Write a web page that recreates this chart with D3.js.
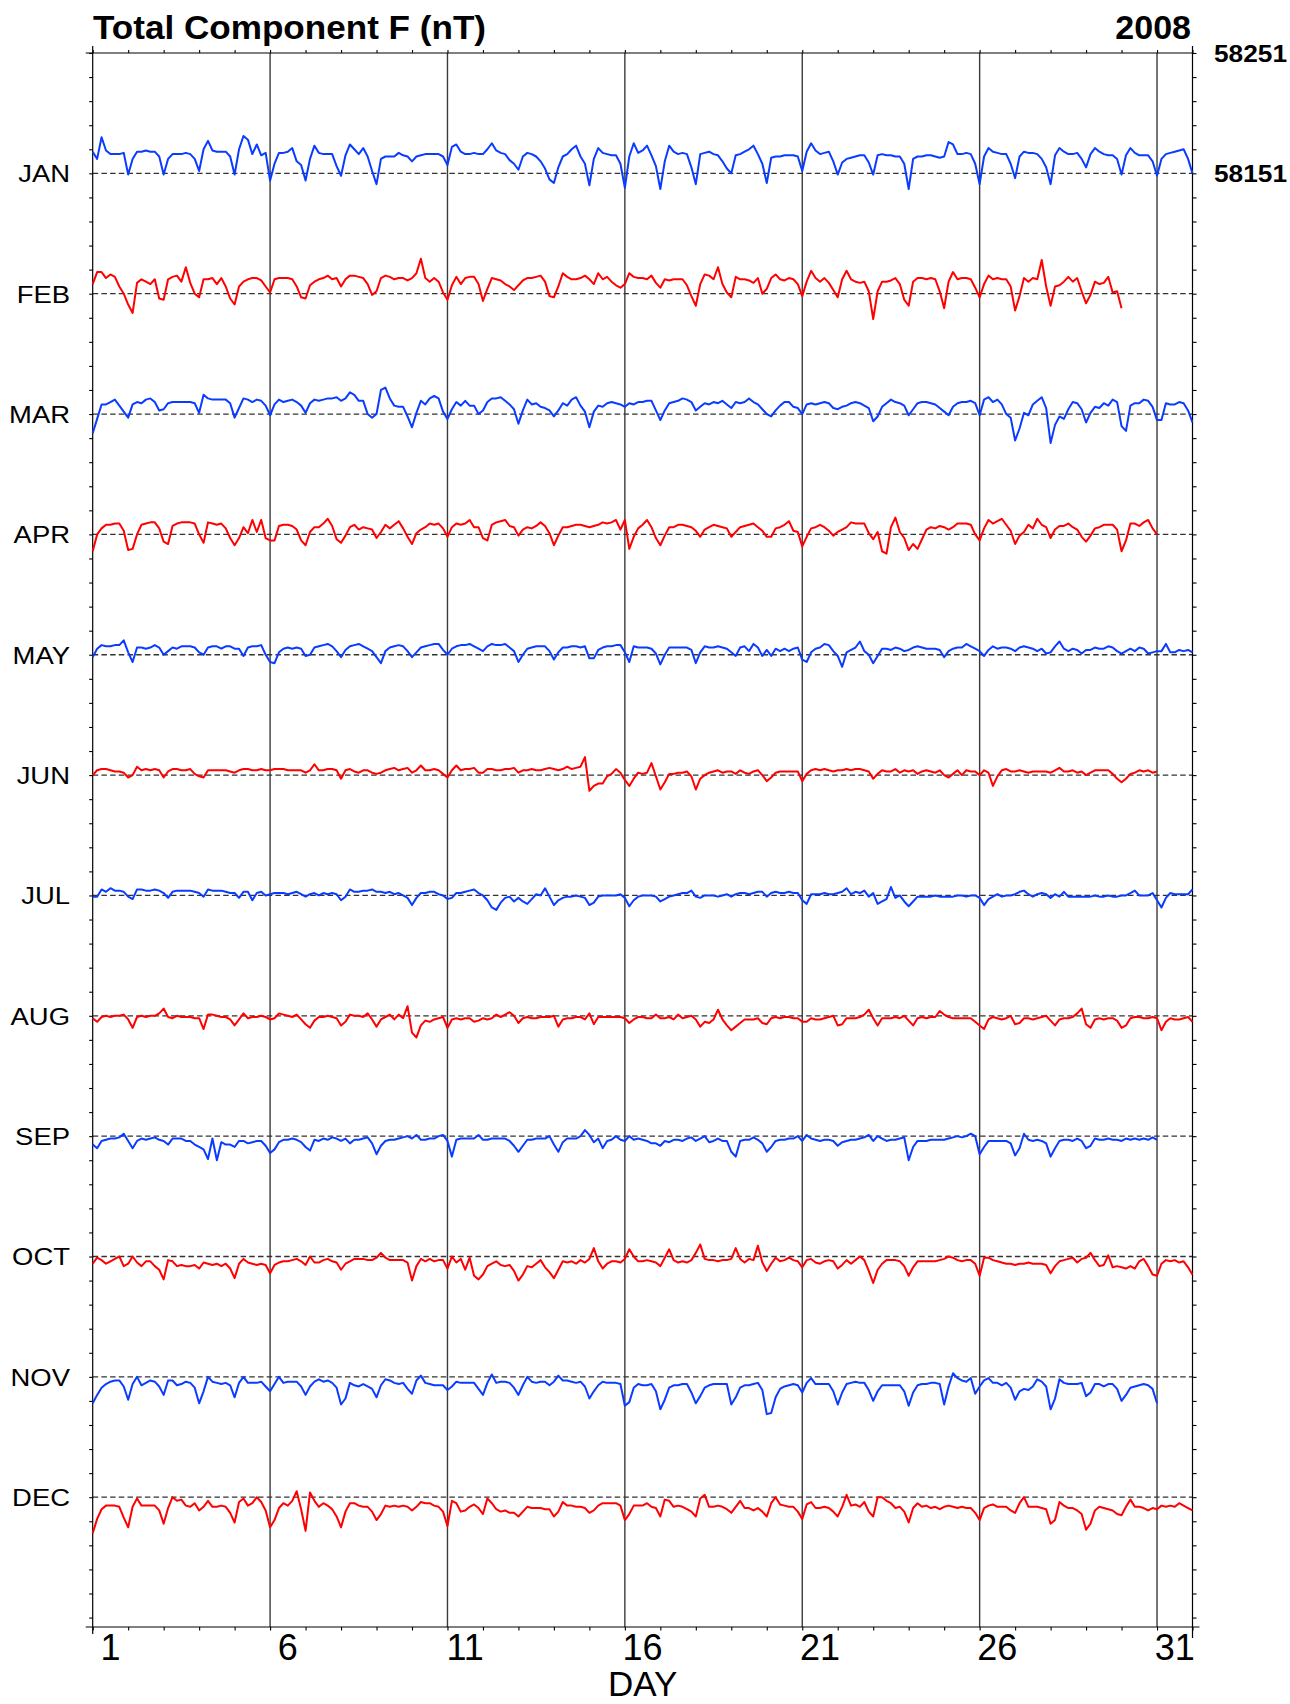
<!DOCTYPE html>
<html>
<head>
<meta charset="utf-8">
<script src="https://cdn.jsdelivr.net/npm/d3@7"></script>
<style>
  body { margin: 0; background: #fff; }
  text { font-family: "Liberation Sans", Arial, Helvetica, sans-serif; fill: #000; }
</style>
</head>
<body>
<svg id="chart" width="1290" height="1704"></svg>
<script>
// ---- Labels and reference values ----
const months = ["JAN", "FEB", "MAR", "APR", "MAY", "JUN", "JUL", "AUG", "SEP", "OCT", "NOV", "DEC"];
const daysInMonth = [31, 29, 31, 30, 31, 30, 31, 31, 30, 31, 30, 31];
const dayTickLabels = [1, 6, 11, 16, 21, 26, 31];
const samplesPerDay = 8;              // 3-hourly values
const janReference = 58151;           // nT, JAN baseline
const monthSpacing = 100;             // nT between monthly baselines
const rightLabels = [58251, 58151];
const titleText = "Total Component F (nT)";
const yearText = "2008";
const xTitle = "DAY";

// ---- 3-hourly deviations from each month's baseline (nT), day 1 00 UT onward ----
const JAN = [
  18,12,30,19,16,16,16,17, -1,12,18,18,19,18,18,14, -1,12,16,16,16,17,16,12, 2,20,27,19,18,18,18,14,
  -1,20,31,28,16,24,15,17, -6,8,17,17,18,21,10,7, -6,12,23,17,16,16,16,6, -2,15,24,20,16,21,14,2,
  -9,12,14,14,14,17,15,14, 10,14,15,16,16,16,16,14, 7,22,24,18,16,16,17,16, 16,20,25,19,17,16,11,8,
  3,14,17,16,14,10,4,-5, -8,5,14,16,20,23,14,8, -10,12,21,17,16,15,15,8, -12,14,25,17,19,23,15,6,
  -13,10,23,18,16,17,16,5, -9,16,17,18,16,15,10,4, 0,15,16,18,20,23,16,8, -8,13,14,14,15,15,15,14,
  2,18,25,19,16,17,18,10, -1,9,12,13,14,15,15,9, -1,15,16,15,15,14,14,8, -13,12,14,14,15,15,14,13,
  14,26,24,16,16,17,16,8, -9,14,21,18,17,16,16,8, -4,14,18,17,17,16,12,5, -9,15,21,18,16,16,17,12,
  5,16,21,18,16,15,15,12, -1,15,21,17,15,15,15,10, -2,12,16,17,18,19,20,12, 0
];
const FEB = [
  8,18,18,13,16,14,6,0, -9,-16,9,12,10,8,12,-4, -5,12,14,15,10,22,9,0, -3,12,12,13,8,13,6,-4,
  -9,6,10,12,13,13,11,6, 1,12,13,13,13,12,6,-3, -4,7,10,12,13,15,12,13, 6,12,15,15,14,13,8,-1,
  2,13,15,14,12,13,13,11, 13,17,29,13,10,13,10,1, -5,7,14,8,13,14,14,8, -6,4,13,12,11,8,6,3,
  7,11,13,13,14,15,10,-2, -3,6,17,14,12,12,13,15, 12,8,17,12,14,10,7,5, 8,17,14,13,13,12,15,9,
  5,12,11,12,12,12,7,-2, -10,8,16,15,12,22,8,1, -3,14,12,12,11,9,13,0, 4,13,16,12,11,13,12,8,
  -2,10,19,13,10,13,9,3, -3,12,19,12,10,9,10,2, -21,2,10,10,11,13,8,-5, -10,10,13,13,12,13,12,2,
  -12,10,18,12,13,13,12,5, -3,8,15,12,13,12,12,6, -14,-2,13,10,13,12,28,6, -10,6,7,10,14,10,13,2,
  -8,-1,10,8,9,14,1,2, -12
];
const MAR = [
  -16,-4,8,8,10,12,7,2, -3,8,10,9,12,13,10,3, 4,9,10,10,10,10,10,9, 1,16,13,12,12,12,12,9,
  -3,5,13,12,10,12,11,7, -1,8,12,10,11,12,10,7, 1,9,12,11,12,13,13,14, 11,13,18,16,11,11,0,-3,
  0,20,22,13,7,6,6,-2, -11,1,11,8,13,15,13,2, -4,4,10,7,11,7,7,0, 3,10,13,13,14,11,8,4,
  -8,3,12,8,9,6,5,3, -2,3,9,7,12,14,7,2, -11,2,7,6,9,10,9,8, 6,9,8,10,10,11,11,3,
  -5,3,9,10,11,13,12,10, 3,6,9,8,10,9,11,8, 5,10,9,10,13,10,8,4, 0,-2,3,7,10,10,6,5,
  0,8,9,8,9,10,9,5, 4,6,7,9,10,9,7,5, -6,-2,6,9,12,10,9,7, -1,4,9,10,10,9,8,5,
  2,-1,6,9,10,10,11,9, -1,12,14,10,12,8,0,-3, -22,-12,1,-1,8,11,14,5, -24,-9,-2,-4,4,10,9,4,
  -7,1,6,5,9,7,12,10, -10,-14,7,9,9,12,11,6, -5,-5,9,8,8,10,9,3, -7
];
const APR = [
  -14,0,5,8,8,9,9,3, -13,-12,0,8,9,10,10,5, -6,-8,7,9,10,10,10,9, 0,-7,10,9,8,9,5,-3,
  -9,-3,6,1,12,2,12,-3, -5,-5,7,8,8,7,4,-5, -9,2,6,6,9,13,7,-4, -7,-1,6,8,4,6,5,4,
  -3,2,8,5,8,11,5,-2, -8,1,4,6,9,8,9,5, -2,6,9,8,9,12,6,6, -3,-5,8,10,11,12,7,6,
  -1,4,6,5,7,10,7,1, -9,-1,6,6,7,8,8,7, 6,7,8,10,9,10,12,4, 12,-12,-2,5,8,12,6,-3,
  -9,-1,6,6,8,8,7,6, 3,-2,4,6,8,7,6,5, -2,2,6,7,8,9,6,3, -2,-2,5,6,8,11,3,2,
  -10,-2,5,6,8,6,3,-1, 2,4,6,10,9,9,9,1, -4,2,-14,-16,6,14,2,-3, -13,-8,-12,-4,4,6,5,7,
  6,4,6,9,9,9,8,0, -5,5,12,9,11,13,8,3, -8,-1,2,8,5,13,8,6, -3,4,7,7,9,6,4,-2,
  -6,-1,5,6,8,8,8,4, -14,-5,9,9,7,10,12,5, 0
];
const MAY = [
  -2,5,8,7,7,8,8,12, 2,-6,6,6,5,6,8,6, 0,3,6,5,7,7,7,6, 2,0,6,7,7,5,7,7,
  5,5,-1,6,7,7,8,0, -6,-7,2,5,6,5,6,5, -1,0,6,7,8,9,7,3, -2,4,7,8,9,7,5,3,
  -2,-7,3,6,7,8,7,3, -2,2,6,7,8,9,9,4, 0,5,7,8,8,9,7,5, 3,7,9,8,8,9,6,3,
  -6,0,5,6,7,7,7,3, -4,2,6,6,7,7,6,7, -3,-3,4,6,7,7,8,8, 2,-6,7,6,6,6,5,1,
  -8,0,6,6,6,6,6,4, -7,2,7,6,6,7,6,5, 2,-1,6,7,3,9,6,-1, 4,-1,5,3,5,3,5,6,
  -4,-6,2,5,6,9,8,3, -1,-10,2,4,6,11,3,0, -7,-1,5,5,4,6,5,3, 4,6,7,6,5,5,5,4,
  -2,3,5,6,6,9,7,5, 3,-1,4,7,5,6,6,5, 3,6,7,6,5,3,5,1, 2,7,11,5,3,5,4,1,
  4,4,6,5,5,7,6,3, 1,3,5,3,6,5,1,2, 3,3,9,2,2,4,3,4, 2
];
const JUN = [
  0,4,5,5,4,3,3,2, -2,0,7,4,5,4,5,4, -2,3,5,5,4,4,5,1, -1,-2,4,4,4,4,4,3,
  2,4,5,5,4,4,5,4, 4,5,5,5,4,4,4,4, 2,4,9,4,4,5,5,4, -3,4,5,3,2,4,4,2,
  1,2,4,5,6,4,5,6, 2,4,8,4,4,5,4,1, -2,4,8,4,5,5,6,2, 2,5,5,4,4,5,5,6,
  2,4,4,5,4,4,5,6, 5,4,5,7,5,6,7,15, -13,-9,-7,-7,-1,1,5,2, -4,-9,-3,2,1,2,10,-1,
  -12,-6,1,1,2,2,3,-1, -12,-3,0,2,3,4,2,3, 3,1,4,2,1,3,4,0, -5,-2,2,3,3,3,3,3,
  -5,1,4,5,4,5,4,3, 4,4,5,4,5,5,4,3, -3,1,4,3,3,5,2,4, 3,4,1,3,4,3,2,4,
  0,-2,1,4,0,4,3,3, 0,4,2,-9,-1,4,5,3, 3,4,3,2,3,3,3,3, 2,4,6,3,3,4,2,3,
  0,2,4,4,4,4,1,-3, -6,-3,1,2,4,3,4,2, 3
];
const JUL = [
  -1,-1,5,3,6,4,4,3, -1,-3,5,5,4,4,5,4, 2,-2,3,4,4,4,4,3, 2,-1,5,4,4,4,3,2,
  2,-2,3,3,-4,2,3,0, 1,2,2,2,1,2,3,1, -1,1,2,0,2,1,2,1, -4,-1,5,3,3,4,4,5,
  3,3,2,3,1,2,0,-2, -8,-2,2,2,3,3,1,0, -3,-2,2,2,3,4,5,2, 0,-4,-10,-12,-6,-2,-1,-5,
  -2,-5,-7,-3,1,0,6,-1, -8,-4,-2,-1,-1,0,-1,-2, -8,-6,-1,0,0,0,0,1, -2,-9,-4,-1,0,0,0,-1,
  -5,-3,-1,0,1,2,2,4, -1,-2,0,0,0,-1,0,1, -1,1,2,2,1,2,3,3, -1,2,3,2,2,3,2,2,
  -4,-7,1,1,1,2,1,1, 2,3,6,1,3,2,4,-1, 2,-7,-5,-3,7,-2,0,-5, -9,-5,-1,-1,-1,-1,0,-1,
  -1,-1,-1,0,0,-1,0,0, -2,-8,-3,-1,1,-1,0,0, 1,3,4,1,-1,1,2,1, -2,1,-1,3,-1,-1,-1,-1,
  -1,-1,0,-1,-1,0,-1,-1, 0,0,2,4,0,0,0,2, -4,-10,-2,2,1,1,1,1, 5
];
const AUG = [
  -2,-5,-1,0,-1,0,0,1, -3,-10,-1,0,-1,0,0,2, 6,-1,-2,0,-1,-1,-1,-2, -2,-11,1,1,0,-1,-1,-3,
  -8,-3,2,-2,-1,-1,0,-1, -3,-2,2,1,0,-1,1,-3, -7,-10,-4,-1,-1,0,-1,-2, -8,-5,1,0,0,-1,2,-3,
  -9,-3,-1,1,-3,1,-2,8, -14,-18,-8,-4,-5,-3,-2,-1, -10,-3,-2,-3,-2,-2,-5,-4, -2,-3,-2,1,-1,1,3,0,
  -6,-2,-1,-2,-2,-1,-1,-1, 0,-9,-3,-2,-2,-1,-1,-3, 2,-7,-1,-1,-1,-1,-1,-1, -2,-6,-3,-1,-1,-2,-2,1,
  -2,-2,-1,-3,1,-2,-1,0, -3,-9,-5,-6,-3,5,-3,-8, -12,-9,-6,-3,-3,-3,-2,-6, -7,-2,-1,-2,-1,-1,-2,-2,
  -5,-5,-2,-3,-3,-2,-1,0, -8,-7,-2,-2,-2,-1,1,5, -2,-8,-2,-2,-2,-1,-2,0, -4,-8,-2,-1,-2,-1,-1,4,
  1,-1,-2,-2,-2,-2,-2,-5, -8,-11,-3,-1,-2,-3,-2,0, -7,-6,-2,-2,-3,-2,-1,0, -4,-8,-3,-2,-2,-1,2,6,
  -7,-10,-3,-2,-3,-2,-2,-4, -10,-8,-2,-1,-1,-2,-2,-1, -2,-12,-5,-2,-3,-3,-2,-1, -5
];
const SEP = [
  -7,-10,-4,-3,-2,-2,-1,2, -4,-10,-4,-2,-3,-2,-1,-3, -4,-7,-2,-2,-2,-4,-4,-7, -9,-11,-19,-2,-20,-5,-7,-7,
  -9,-4,-4,-6,-5,-4,-4,-8, -14,-11,-5,-3,-3,-2,-3,-5, -9,-12,-3,-4,-2,-3,-1,-2, -4,-2,-6,-3,-3,-2,-1,-6,
  -15,-8,-4,-3,-3,-2,-1,0, -2,1,-3,-3,-2,-2,0,1, -4,-17,-3,-2,-2,-2,-2,1, -3,-3,-2,-2,-2,-2,-4,-8,
  -13,-8,-3,-3,-2,-2,-2,0, -7,-13,-5,-2,-2,-2,0,5, 1,-5,-2,-10,-4,-3,0,-3, -4,0,-3,-2,-3,-4,-6,-6,
  -8,-4,-5,-3,-3,-4,-2,-1, -4,-2,0,-5,-4,-2,-4,-4, -13,-17,-4,-3,-3,-1,-3,-6, -13,-9,-4,-3,-3,-2,-2,0,
  -4,1,-2,-3,-4,-3,-3,-4, -8,-5,-4,-3,-3,-2,-1,1, -4,0,-2,-4,-3,-3,-2,-1, -20,-9,-4,-4,-4,-3,-3,-3,
  -3,-2,-1,0,-1,0,2,0, -15,-9,-4,-4,-4,-4,-4,-6, -16,-10,2,-3,-4,-3,-4,-6, -17,-10,-4,-3,-3,-4,-2,-4,
  -10,-8,-2,-3,-3,-2,-3,-3, -4,-2,-3,-2,-3,-2,-3,-1, -3
];
const OCT = [
  -6,-1,-3,-6,-4,-2,0,-8, -6,0,-5,-8,-4,-4,-8,-11, -19,-3,-4,-8,-7,-8,-8,-7, -10,-5,-6,-7,-6,-8,-6,-10,
  -18,-6,-2,-5,-6,-7,-6,-7, -14,-7,-5,-4,-4,-3,-2,-4, -7,0,-5,-5,-3,-2,-4,-5, -11,-6,-4,-2,-2,-2,-3,-3,
  -1,3,-1,-3,-3,-3,-3,-5, -20,-8,-2,-4,-2,-4,-3,-3, -10,0,-5,-2,-11,-1,-16,-19, -15,-8,-6,-4,-7,-8,-7,-12,
  -20,-15,-8,-9,-6,-3,-9,-13, -18,-11,-4,-5,-4,-6,-3,-5, -2,7,-4,-10,-6,-4,-4,-5, -2,6,0,-4,-4,-3,-4,-5,
  -8,-1,6,-3,-5,-4,-5,-3, 3,10,-2,-3,-3,-4,-3,-3, -2,7,-2,-5,-2,-3,9,-5, -12,-6,-1,-4,-3,-1,-3,-4,
  -9,-3,-2,-5,-6,-4,-3,-4, -10,-7,-3,-6,-3,0,-3,-12, -22,-11,-6,-3,-3,-3,-4,-8, -16,-9,-4,-4,-4,-4,-4,-3,
  -2,0,-1,-3,-4,-3,-3,-6, -16,-1,-1,-3,-4,-5,-6,-6, -7,-6,-6,-5,-6,-6,-6,-7, -14,-8,-4,-3,-2,-1,-5,-2,
  -1,3,-3,-8,-7,1,-9,-8, -9,-10,-8,-10,-4,-2,-8,-15, -16,-6,-3,-4,-3,-5,-4,-9, -15
];
const NOV = [
  -22,-15,-9,-6,-4,-3,-3,-8, -19,-6,0,-7,-5,-3,-4,-8, -15,-3,-3,-7,-6,-4,-5,-9, -22,-12,0,-4,-5,-6,-5,-7,
  -17,-5,0,-5,-5,-5,-4,-8, -12,-6,0,-5,-4,-4,-4,-8, -15,-8,-4,-2,-4,-3,-5,-9, -23,-18,-5,-7,-8,-6,-8,-10,
  -17,-7,-2,-3,-5,-6,-5,-10, -14,-3,1,-5,-6,-7,-7,-7, -11,-8,-4,-5,-5,-5,-5,-10, -15,-5,2,-5,-4,-4,-5,-9,
  -15,-7,0,-4,-5,-4,-4,-7, -4,1,-3,-3,-4,-5,-4,-8, -18,-12,-7,-4,-5,-5,-5,-6, -24,-21,-9,-6,-7,-7,-6,-12,
  -27,-19,-9,-7,-7,-6,-6,-13, -22,-16,-9,-7,-6,-6,-6,-6, -23,-17,-9,-7,-7,-6,-5,-11, -31,-30,-17,-10,-8,-7,-6,-7,
  -13,-5,-1,-6,-6,-6,-6,-12, -23,-13,-6,-5,-4,-5,-5,-11, -20,-12,-7,-7,-7,-7,-7,-12, -24,-13,-7,-6,-6,-5,-5,-6,
  -23,-8,3,-1,-3,-4,-1,-14, -8,-3,-1,-5,-5,-7,-5,-9, -19,-12,-10,-11,-8,-2,-4,-8, -27,-18,-2,-5,-6,-6,-6,-5,
  -16,-13,-6,-6,-8,-6,-6,-10, -20,-15,-9,-8,-7,-6,-7,-10, -22
];
const DEC = [
  -30,-18,-10,-7,-7,-7,-8,-17, -25,-8,-1,-7,-7,-7,-7,-11, -22,-9,0,-3,-2,-7,-8,-5, -11,-8,-3,-8,-8,-7,-8,-13,
  -21,-4,-1,-7,-5,0,-4,-11, -25,-19,-9,-5,-7,-3,5,-10, -28,4,-3,-8,-5,-7,-10,-16, -25,-12,-5,-5,-7,-8,-8,-12,
  -19,-14,-7,-8,-7,-8,-7,-8, -11,-8,-4,-5,-5,-7,-8,-12, -24,-3,-5,-12,-11,-8,-6,-9, -14,-1,-5,-10,-12,-11,-13,-13,
  -16,-12,-8,-9,-9,-9,-10,-10, -16,-12,-4,-7,-7,-8,-8,-9, -13,-11,-7,-5,-5,-5,-5,-7, -19,-14,-7,-7,-7,-5,-8,-9,
  -16,-2,-3,-8,-7,-8,-10,-12, -16,-1,2,-8,-8,-7,-8,-10, -13,-8,-3,-9,-9,-11,-9,-12, -16,-5,0,-6,-7,-8,-8,-12,
  -18,-6,-4,-9,-9,-8,-9,-12, -16,-8,2,-7,-6,-8,-4,-12, -16,0,0,-3,-5,-9,-8,-12, -21,-9,-5,-8,-7,-9,-8,-10,
  -8,-7,-8,-9,-8,-9,-9,-13, -19,-9,-7,-6,-8,-8,-8,-11, -13,-5,0,-8,-8,-8,-9,-10, -22,-19,-4,-7,-9,-9,-11,-14,
  -27,-22,-11,-8,-9,-10,-11,-14, -15,-8,-2,-8,-8,-9,-11,-9, -10,-7,-8,-7,-8,-5,-7,-9, -11
];
const deviations = [JAN, FEB, MAR, APR, MAY, JUN, JUL, AUG, SEP, OCT, NOV, DEC];
const seriesColors = ["#0a3cff", "#ff0000"];   // alternating month colours

// ---- Layout ----
const svg = d3.select("#chart");
const plot = { left: 92.7, right: 1192.5, top: 53, bottom: 1627 };
const pxPerNT = 1.2035;
const yTop = janReference + monthSpacing;
const yBottom = yTop - (plot.bottom - plot.top) / pxPerNT;

const x = d3.scaleLinear().domain([1, 32]).range([plot.left, plot.right]);
const y = d3.scaleLinear().domain([yBottom, yTop]).range([plot.bottom, plot.top]);
const baseOf = i => janReference - monthSpacing * i;

// ---- Vertical day separators ----
svg.append("g").selectAll("line")
  .data(dayTickLabels.filter(d => d > 1))
  .join("line")
  .attr("x1", d => x(d)).attr("x2", d => x(d))
  .attr("y1", plot.top).attr("y2", plot.bottom)
  .attr("stroke", "#3a3a3a").attr("stroke-width", 1.4);

// ---- Monthly baselines (dashed) ----
svg.append("g").selectAll("line")
  .data(months)
  .join("line")
  .attr("x1", plot.left).attr("x2", plot.right)
  .attr("y1", (m, i) => y(baseOf(i))).attr("y2", (m, i) => y(baseOf(i)))
  .attr("stroke", "#333").attr("stroke-width", 1.3)
  .attr("stroke-dasharray", "5.5,3.2");

// ---- Axis ticks ----
const minorDays = d3.range(1, 33);
const nTTicks = d3.range(yTop, yBottom - 0.01, -20);

function stripDomain(g) { g.select(".domain").remove(); g.selectAll("line").attr("stroke", "#000").attr("stroke-width", 1.1); }

svg.append("g").attr("transform", `translate(0,${plot.bottom})`)
  .call(d3.axisBottom(x).tickValues(minorDays).tickSize(3.5).tickFormat(""))
  .call(stripDomain);
svg.append("g").attr("transform", `translate(0,${plot.top})`)
  .call(d3.axisTop(x).tickValues(minorDays).tickSize(3).tickFormat(""))
  .call(stripDomain);
svg.append("g").attr("transform", `translate(${plot.left},0)`)
  .call(d3.axisLeft(y).tickValues(nTTicks).tickSize(3.5).tickFormat(""))
  .call(stripDomain);
svg.append("g").attr("transform", `translate(${plot.right},0)`)
  .call(d3.axisRight(y).tickValues(nTTicks).tickSize(4).tickFormat(""))
  .call(stripDomain);

// ---- Frame, with slightly overhanging ends ----
const ext = 7;
const frame = [
  [plot.left - ext, plot.top, plot.right, plot.top],
  [plot.left - ext, plot.bottom, plot.right + ext, plot.bottom],
  [plot.left, plot.top - ext, plot.left, plot.bottom + ext],
  [plot.right, plot.top - ext, plot.right, plot.bottom + 11]
];
svg.append("g").selectAll("line").data(frame).join("line")
  .attr("x1", d => d[0]).attr("y1", d => d[1]).attr("x2", d => d[2]).attr("y2", d => d[3])
  .attr("stroke", "#000").attr("stroke-width", 1.2);

// ---- Monthly traces ----
const line = d3.line()
  .x((v, j) => x(1 + j / samplesPerDay))
  .y(d => d);
svg.append("g").selectAll("path")
  .data(deviations.map((vals, i) => ({ i, vals })))
  .join("path")
  .attr("d", s => line(s.vals.map(v => y(baseOf(s.i) + v))))
  .attr("fill", "none")
  .attr("stroke", s => seriesColors[s.i % 2])
  .attr("stroke-width", 2)
  .attr("stroke-linejoin", "round");

// ---- Month labels (slightly wide lettering) ----
svg.append("g").selectAll("text")
  .data(months)
  .join("text")
  .attr("transform", (m, i) => `translate(70,${y(baseOf(i)) + 8.8}) scale(1.12,1)`)
  .attr("text-anchor", "end")
  .attr("font-size", 24.5)
  .text(m => m);

// ---- Day labels ----
svg.append("g").selectAll("text")
  .data(dayTickLabels)
  .join("text")
  .attr("x", d => x(d + 0.5))
  .attr("y", 1660)
  .attr("text-anchor", "middle")
  .attr("font-size", 36)
  .text(d => d);

svg.append("text")
  .attr("x", (plot.left + plot.right) / 2).attr("y", 1696)
  .attr("text-anchor", "middle").attr("font-size", 35)
  .text(xTitle);

// ---- Right-hand nT labels for JAN ----
svg.append("g").selectAll("text")
  .data(rightLabels)
  .join("text")
  .attr("x", 1214)
  .attr("y", d => y(d) + 8.8)
  .attr("font-size", 23).attr("font-weight", "bold")
  .attr("textLength", 73).attr("lengthAdjust", "spacingAndGlyphs")
  .text(d => d);

// ---- Title ----
svg.append("text")
  .attr("x", 93).attr("y", 39)
  .attr("font-size", 34).attr("font-weight", "bold")
  .attr("textLength", 393).attr("lengthAdjust", "spacingAndGlyphs")
  .text(titleText);
svg.append("text")
  .attr("x", 1191).attr("y", 39)
  .attr("text-anchor", "end")
  .attr("font-size", 34).attr("font-weight", "bold")
  .text(yearText);
</script>
</body>
</html>
